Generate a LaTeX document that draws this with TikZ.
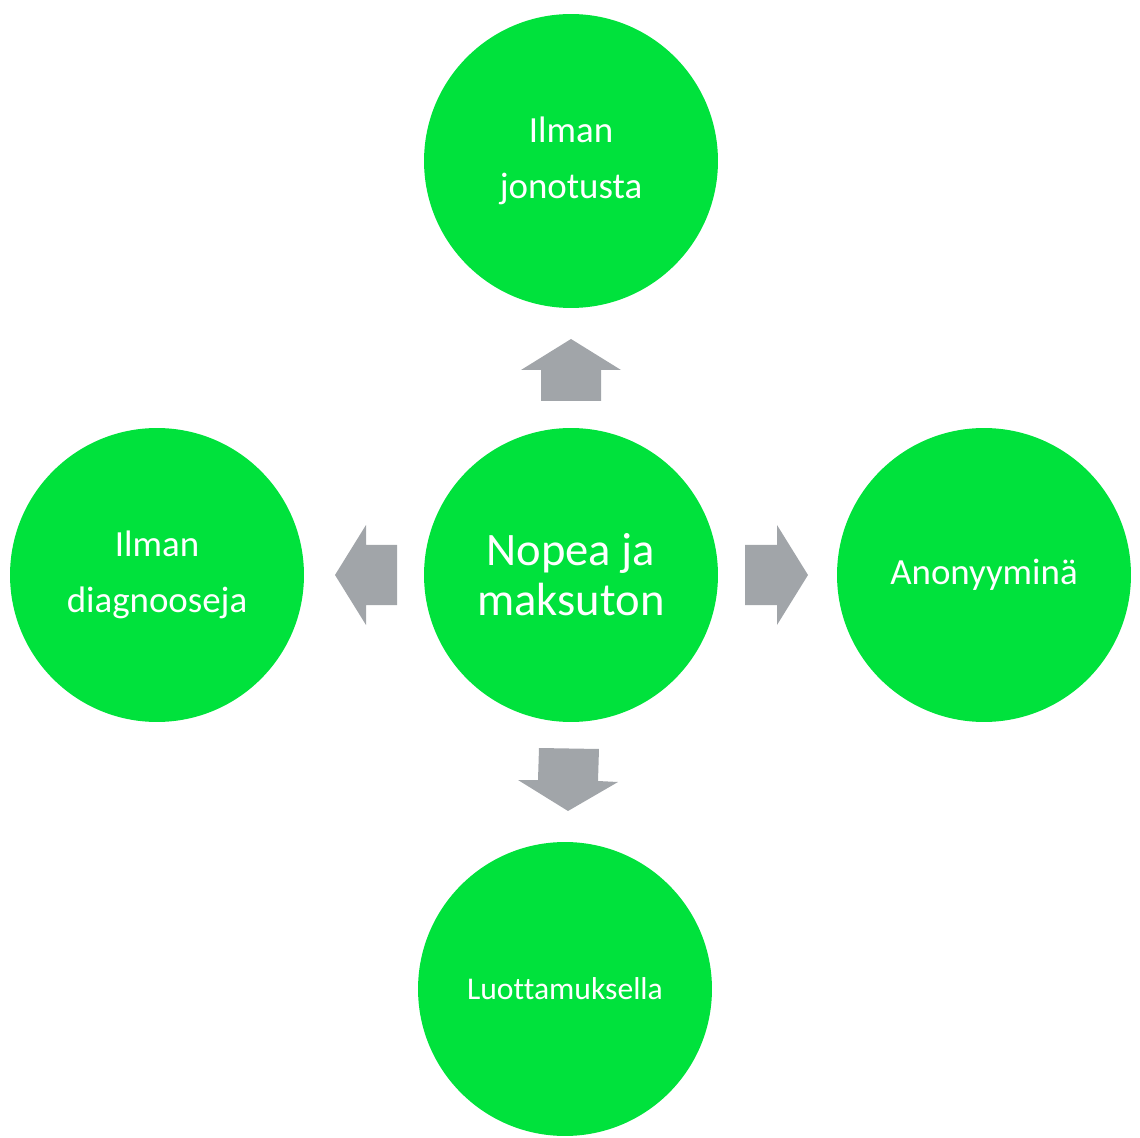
\documentclass[tikz,border=0pt]{standalone}
\usepackage{fontspec}
\setmainfont{Carlito}[Ligatures=NoCommon]
\definecolor{vihrea}{HTML}{00E23C}
\definecolor{harmaa}{HTML}{A1A5A9}
\tikzset{
  pallo/.style={circle, fill=vihrea, minimum size=5.88cm, inner sep=0pt,
    text=white, align=center, font=\fontsize{21}{32}\selectfont},
  nuoli/.style={fill=harmaa}
}
\begin{document}
\begin{tikzpicture}[x=0.02cm, y=-0.02cm]
\useasboundingbox (0,0) rectangle (1140,1138);

% Pallot
\node[pallo, font=\fontsize{26.5}{28.5}\selectfont] (keski) at (571,575) {Nopea ja\\maksuton};
\node[pallo] (yla) at (571,161) {Ilman\\jonotusta};
\node[pallo] (vasen) at (157,575) {Ilman\\diagnooseja};
\node[pallo] (oikea) at (984,575) {Anonyyminä};
\node[pallo, font=\fontsize{18}{22}\selectfont] (ala) at (565,989) {Luottamuksella};

% Nuolet
\fill[nuoli] (541,401) -- (541,370) -- (521,370) -- (571,339) -- (621,370) -- (601,370) -- (601,401) -- cycle;
\fill[nuoli] (397,545) -- (366,545) -- (366,525) -- (335,575) -- (366,625) -- (366,605) -- (397,605) -- cycle;
\fill[nuoli] (745,545) -- (777,545) -- (777,525) -- (808,575) -- (777,625) -- (777,605) -- (745,605) -- cycle;
\fill[nuoli] (539,748) -- (599,749) -- (598,781) -- (618,782) -- (568,811) -- (518,780) -- (538,780) -- cycle;

\end{tikzpicture}
\end{document}
